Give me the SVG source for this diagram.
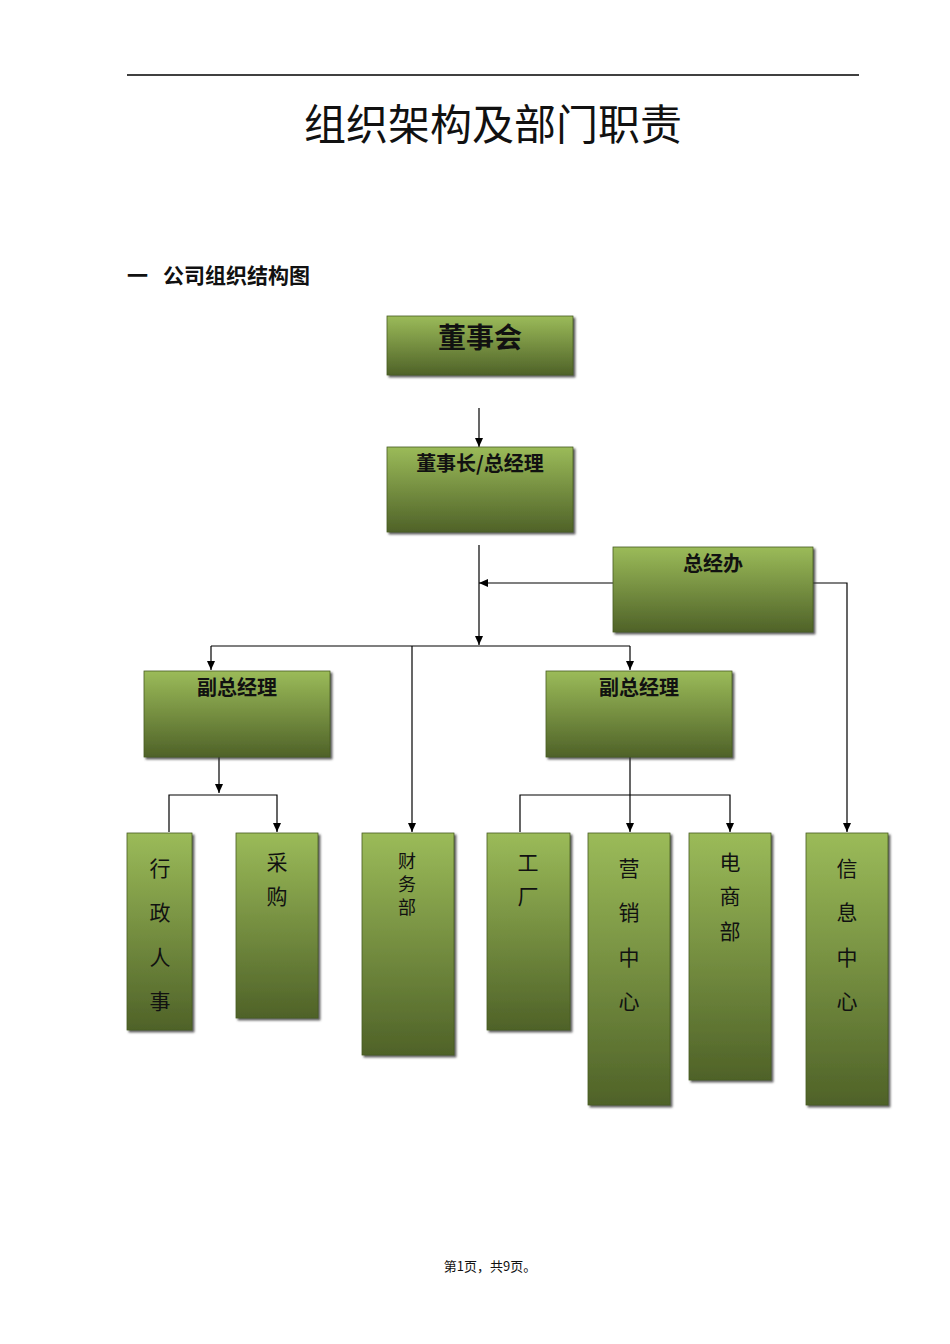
<svg xmlns="http://www.w3.org/2000/svg" width="950" height="1344" viewBox="0 0 950 1344">
<style>
.b{fill:url(#g);stroke:#4a5e22;stroke-width:0.8;filter:url(#s)}
.t{font-family:"Noto Sans CJK SC","Noto Sans CJK JP",sans-serif;font-size:20px;font-weight:bold;fill:#111;text-anchor:middle}
.v{font-family:"Noto Sans CJK SC",sans-serif;font-size:21px;fill:#111;text-anchor:middle}
.c{stroke:#000;stroke-width:1.2;fill:none}
.a{marker-end:url(#ar)}
</style>
<defs>
<linearGradient id="g" x1="0" y1="0" x2="0" y2="1"><stop offset="0" stop-color="#9bbb59"/><stop offset="1" stop-color="#4f6228"/></linearGradient>
<filter id="s" x="-10%" y="-10%" width="120%" height="120%"><feDropShadow dx="2" dy="2" stdDeviation="0.8" flood-color="#333" flood-opacity="0.8"/></filter>
<marker id="ar" markerWidth="10" markerHeight="10" refX="9" refY="5" orient="auto" markerUnits="userSpaceOnUse"><path d="M0,1 L9,5 L0,9 Z" fill="#000"/></marker>
</defs>
<rect width="950" height="1344" fill="#fff"/>
<line x1="127" y1="75" x2="859" y2="75" stroke="#000" stroke-width="1.3"/>
<text x="493" y="140" font-family="Noto Sans CJK SC,sans-serif" font-size="42" text-anchor="middle" fill="#111">组织架构及部门职责</text>
<text x="127" y="283" font-family="Noto Sans CJK SC,sans-serif" font-size="21" font-weight="bold" fill="#111">一</text>
<text x="163" y="283" font-family="Noto Sans CJK SC,sans-serif" font-size="21" font-weight="bold" fill="#111">公司组织结构图</text>
<g id="connectors">
<line class="c a" x1="479" y1="408" x2="479" y2="447"/>
<line class="c a" x1="479" y1="545" x2="479" y2="645"/>
<line class="c a" x1="613" y1="583" x2="479" y2="583"/>
<polyline class="c a" points="813,583 847,583 847,832"/>
<line class="c" x1="211" y1="646" x2="630" y2="646"/>
<line class="c a" x1="211" y1="646" x2="211" y2="670"/>
<line class="c a" x1="630" y1="646" x2="630" y2="670"/>
<line class="c a" x1="412" y1="646" x2="412" y2="832"/>
<line class="c a" x1="219" y1="757" x2="219" y2="793"/>
<polyline class="c a" points="169,832 169,795 277,795 277,832"/>
<line class="c a" x1="630" y1="757" x2="630" y2="832"/>
<polyline class="c a" points="520,832 520,795 730,795 730,832"/>
</g>
<g id="n1"><rect class="b" x="387" y="316" width="186" height="59"/><text x="480" y="348" class="t" style="font-size:28px">董事会</text></g>
<g id="n2"><rect class="b" x="387" y="447" width="186" height="85"/><text x="480" y="471" class="t">董事长/总经理</text></g>
<g id="n3"><rect class="b" x="613" y="547" width="200" height="85"/><text x="713" y="571" class="t">总经办</text></g>
<g id="n4"><rect class="b" x="144" y="671" width="186" height="86"/><text x="237" y="695" class="t">副总经理</text></g>
<g id="n5"><rect class="b" x="546" y="671" width="186" height="86"/><text x="639" y="695" class="t">副总经理</text></g>
<g id="n6"><rect class="b" x="127" y="833" width="65" height="197"/><text class="v" x="160"><tspan x="160" y="876">行</tspan><tspan x="160" y="920">政</tspan><tspan x="160" y="965">人</tspan><tspan x="160" y="1009">事</tspan></text></g>
<g id="n7"><rect class="b" x="236" y="833" width="82" height="185"/><text class="v"><tspan x="277" y="870">采</tspan><tspan x="277" y="904">购</tspan></text></g>
<g id="n8"><rect class="b" x="362" y="833" width="92" height="222"/><text class="v" style="font-size:18px"><tspan x="407" y="868">财</tspan><tspan x="407" y="891">务</tspan><tspan x="407" y="914">部</tspan></text></g>
<g id="n9"><rect class="b" x="487" y="833" width="83" height="197"/><text class="v"><tspan x="528" y="870">工</tspan><tspan x="528" y="904">厂</tspan></text></g>
<g id="n10"><rect class="b" x="588" y="833" width="82" height="272"/><text class="v"><tspan x="629" y="876">营</tspan><tspan x="629" y="920">销</tspan><tspan x="629" y="965">中</tspan><tspan x="629" y="1009">心</tspan></text></g>
<g id="n11"><rect class="b" x="689" y="833" width="82" height="247"/><text class="v"><tspan x="730" y="870">电</tspan><tspan x="730" y="904">商</tspan><tspan x="730" y="939">部</tspan></text></g>
<g id="n12"><rect class="b" x="806" y="833" width="82" height="272"/><text class="v"><tspan x="847" y="876">信</tspan><tspan x="847" y="920">息</tspan><tspan x="847" y="965">中</tspan><tspan x="847" y="1009">心</tspan></text></g>
<text x="490" y="1271" font-family="Noto Sans CJK SC,serif" font-size="13" text-anchor="middle" fill="#111">第1页，共9页。</text>
</svg>
